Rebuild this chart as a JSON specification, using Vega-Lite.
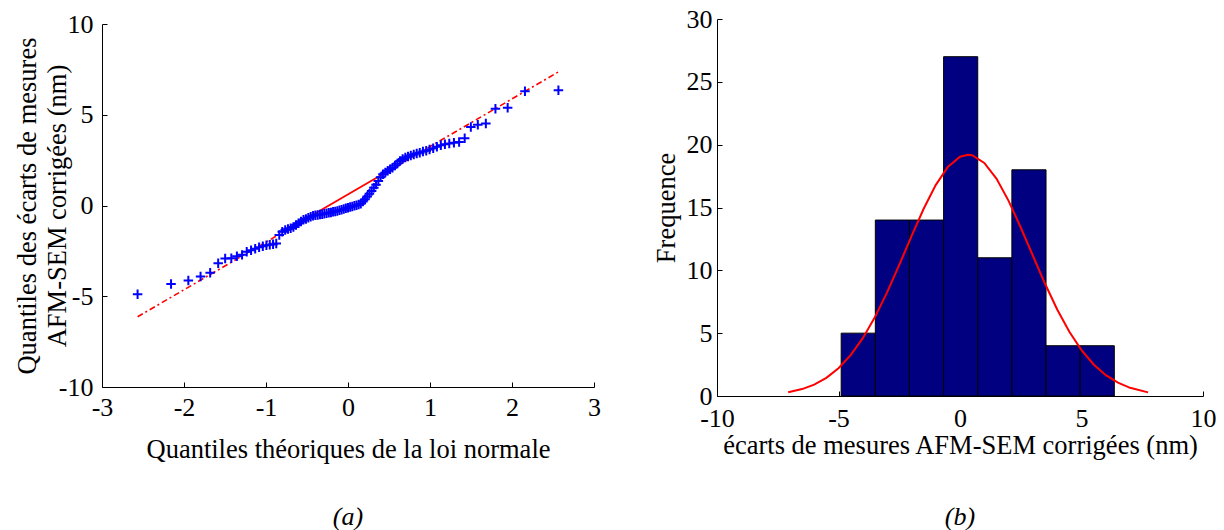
{
  "$schema": "https://vega.github.io/schema/vega-lite/v6.json",
  "background": "white",
  "padding": {"left": 14, "top": 6, "right": 5, "bottom": 5},
  "config": {
    "font": "Liberation Serif",
    "view": {"stroke": null},
    "axis": {
      "labelFont": "Liberation Serif",
      "titleFont": "Liberation Serif",
      "labelFontSize": 26,
      "titleFontSize": 26.5,
      "titleFontWeight": "normal",
      "labelColor": "black",
      "titleColor": "black",
      "domainColor": "black",
      "tickColor": "black",
      "grid": false,
      "tickSize": -5,
      "domainWidth": 1,
      "tickWidth": 1,
      "labelFlush": false,
      "labelExpr": "'' + datum.value"
    },
    "title": {"font": "Liberation Serif", "fontSize": 26, "fontWeight": "normal", "fontStyle": "italic", "color": "black"}
  },
  "datasets": {
    "qq": [
      {"x": -2.566, "y": -4.89}, {"x": -2.158, "y": -4.33}, {"x": -1.947, "y": -4.13}, {"x": -1.798, "y": -3.91},
      {"x": -1.681, "y": -3.70}, {"x": -1.583, "y": -3.18}, {"x": -1.498, "y": -2.92}, {"x": -1.423, "y": -2.90},
      {"x": -1.355, "y": -2.80}, {"x": -1.292, "y": -2.72}, {"x": -1.235, "y": -2.55}, {"x": -1.182, "y": -2.47},
      {"x": -1.132, "y": -2.38}, {"x": -1.084, "y": -2.30}, {"x": -1.039, "y": -2.24}, {"x": -0.995, "y": -2.19},
      {"x": -0.954, "y": -2.16}, {"x": -0.914, "y": -2.13}, {"x": -0.875, "y": -2.10}, {"x": -0.838, "y": -1.62},
      {"x": -0.802, "y": -1.45}, {"x": -0.766, "y": -1.35}, {"x": -0.732, "y": -1.30}, {"x": -0.699, "y": -1.25},
      {"x": -0.666, "y": -1.18}, {"x": -0.634, "y": -1.08}, {"x": -0.603, "y": -0.98}, {"x": -0.573, "y": -0.88},
      {"x": -0.543, "y": -0.79}, {"x": -0.513, "y": -0.74}, {"x": -0.484, "y": -0.68}, {"x": -0.455, "y": -0.62},
      {"x": -0.426, "y": -0.56}, {"x": -0.398, "y": -0.54}, {"x": -0.370, "y": -0.52}, {"x": -0.342, "y": -0.50},
      {"x": -0.315, "y": -0.48}, {"x": -0.288, "y": -0.45}, {"x": -0.261, "y": -0.43}, {"x": -0.234, "y": -0.40},
      {"x": -0.208, "y": -0.38}, {"x": -0.182, "y": -0.35}, {"x": -0.156, "y": -0.33}, {"x": -0.130, "y": -0.30},
      {"x": -0.104, "y": -0.26}, {"x": -0.078, "y": -0.23}, {"x": -0.052, "y": -0.19}, {"x": -0.026, "y": -0.15},
      {"x": 0.000, "y": -0.12}, {"x": 0.026, "y": -0.08}, {"x": 0.052, "y": -0.05}, {"x": 0.078, "y": -0.01},
      {"x": 0.104, "y": 0.02}, {"x": 0.130, "y": 0.06}, {"x": 0.156, "y": 0.10}, {"x": 0.182, "y": 0.22},
      {"x": 0.208, "y": 0.35}, {"x": 0.234, "y": 0.50}, {"x": 0.261, "y": 0.65}, {"x": 0.288, "y": 0.80},
      {"x": 0.315, "y": 0.98}, {"x": 0.342, "y": 1.15}, {"x": 0.370, "y": 1.35}, {"x": 0.398, "y": 1.55},
      {"x": 0.426, "y": 1.72}, {"x": 0.455, "y": 1.82}, {"x": 0.484, "y": 1.92}, {"x": 0.513, "y": 2.00},
      {"x": 0.543, "y": 2.08}, {"x": 0.573, "y": 2.20}, {"x": 0.603, "y": 2.32}, {"x": 0.634, "y": 2.45},
      {"x": 0.666, "y": 2.56}, {"x": 0.699, "y": 2.64}, {"x": 0.732, "y": 2.70}, {"x": 0.766, "y": 2.76},
      {"x": 0.802, "y": 2.81}, {"x": 0.838, "y": 2.86}, {"x": 0.875, "y": 2.91}, {"x": 0.914, "y": 2.97},
      {"x": 0.954, "y": 3.02}, {"x": 0.995, "y": 3.08}, {"x": 1.039, "y": 3.16}, {"x": 1.084, "y": 3.24},
      {"x": 1.132, "y": 3.32}, {"x": 1.182, "y": 3.38}, {"x": 1.235, "y": 3.42}, {"x": 1.292, "y": 3.46},
      {"x": 1.355, "y": 3.50}, {"x": 1.423, "y": 3.70}, {"x": 1.498, "y": 4.32}, {"x": 1.583, "y": 4.45},
      {"x": 1.681, "y": 4.52}, {"x": 1.798, "y": 5.33}, {"x": 1.947, "y": 5.38}, {"x": 2.158, "y": 6.30},
      {"x": 2.566, "y": 6.35}
    ],
    "refDash": [
      {"x": -2.566, "y": -6.13, "seg": "lo"}, {"x": -0.674, "y": -1.158, "seg": "lo"},
      {"x": 0.674, "y": 2.388, "seg": "hi"}, {"x": 2.566, "y": 7.36, "seg": "hi"}
    ],
    "refSolid": [
      {"x": -0.674, "y": -1.158}, {"x": 0.674, "y": 2.388}
    ],
    "hist": [
      {"x0": -4.89, "x1": -3.485, "count": 5},
      {"x0": -3.485, "x1": -2.08, "count": 14},
      {"x0": -2.08, "x1": -0.675, "count": 14},
      {"x0": -0.675, "x1": 0.73, "count": 27},
      {"x0": 0.73, "x1": 2.135, "count": 11},
      {"x0": 2.135, "x1": 3.54, "count": 18},
      {"x0": 3.54, "x1": 4.945, "count": 4},
      {"x0": 4.945, "x1": 6.35, "count": 4}
    ],
    "fit": [
      {"x": -7.07, "y": 0.30}, {"x": -6.5, "y": 0.55}, {"x": -6.0, "y": 0.91}, {"x": -5.5, "y": 1.44},
      {"x": -5.0, "y": 2.21}, {"x": -4.5, "y": 3.25}, {"x": -4.0, "y": 4.60}, {"x": -3.5, "y": 6.28},
      {"x": -3.0, "y": 8.25}, {"x": -2.5, "y": 10.43}, {"x": -2.0, "y": 12.70}, {"x": -1.5, "y": 14.88},
      {"x": -1.0, "y": 16.78}, {"x": -0.5, "y": 18.22}, {"x": 0.0, "y": 19.04}, {"x": 0.33, "y": 19.2},
      {"x": 0.5, "y": 19.16}, {"x": 1.0, "y": 18.55}, {"x": 1.5, "y": 17.30}, {"x": 2.0, "y": 15.53},
      {"x": 2.5, "y": 13.41}, {"x": 3.0, "y": 11.16}, {"x": 3.5, "y": 8.93}, {"x": 4.0, "y": 6.88},
      {"x": 4.5, "y": 5.11}, {"x": 5.0, "y": 3.65}, {"x": 5.5, "y": 2.51}, {"x": 6.0, "y": 1.66},
      {"x": 6.5, "y": 1.06}, {"x": 7.0, "y": 0.65}, {"x": 7.74, "y": 0.29}
    ]
  },
  "bounds": "flush",
  "spacing": 123,
  "hconcat": [
    {
      "width": 492,
      "height": 368,
      "title": {"text": "(a)", "orient": "bottom", "offset": 41},
      "layer": [
        {
          "data": {"name": "refDash"},
          "mark": {"type": "line", "color": "#ff0000", "strokeWidth": 1.6, "strokeDash": [6, 3, 2, 3]},
          "encoding": {
            "x": {"field": "x", "type": "quantitative", "scale": {"domain": [-3, 3], "nice": false, "zero": false},
                  "axis": {"values": [-3, -2, -1, 0, 1, 2, 3], "title": "Quantiles théoriques de la loi normale", "labelFont": "Liberation Serif", "labelPadding": 12, "titlePadding": 16}},
            "y": {"field": "y", "type": "quantitative", "scale": {"domain": [-10, 10], "range": [368, 5], "nice": false, "zero": false},
                  "axis": {"values": [-10, -5, 0, 5, 10], "title": ["Quantiles des écarts de mesures", "AFM-SEM corrigées (nm)"], "labelFont": "Liberation Serif", "titleLineHeight": 30, "labelPadding": 14, "titlePadding": -13}},
            "detail": {"field": "seg"}
          }
        },
        {
          "data": {"name": "refSolid"},
          "mark": {"type": "line", "color": "#ff0000", "strokeWidth": 1.8},
          "encoding": {
            "x": {"field": "x", "type": "quantitative"},
            "y": {"field": "y", "type": "quantitative"}
          }
        },
        {
          "data": {"name": "qq"},
          "mark": {"type": "point", "shape": "M-1,0L1,0M0,-1L0,1", "size": 90, "filled": false, "stroke": "#0000ff", "strokeWidth": 2, "opacity": 1},
          "encoding": {
            "x": {"field": "x", "type": "quantitative"},
            "y": {"field": "y", "type": "quantitative"}
          }
        }
      ]
    },
    {
      "width": 486,
      "height": 377,
      "title": {"text": "(b)", "orient": "bottom", "offset": 45},
      "layer": [
        {
          "data": {"name": "hist"},
          "mark": {"type": "rect", "fill": "#000080", "stroke": "black", "strokeWidth": 1},
          "encoding": {
            "x": {"field": "x0", "type": "quantitative", "scale": {"domain": [-10, 10], "nice": false, "zero": false},
                  "axis": {"values": [-10, -5, 0, 5, 10], "title": "écarts de mesures AFM-SEM corrigées (nm)", "labelFont": "Liberation Serif", "labelPadding": 14, "titlePadding": 1}},
            "x2": {"field": "x1"},
            "y": {"field": "count", "type": "quantitative", "scale": {"domain": [0, 30], "nice": false},
                  "axis": {"values": [0, 5, 10, 15, 20, 25, 30], "title": "Frequence", "labelFont": "Liberation Serif", "labelPadding": 10, "titlePadding": 6}},
            "y2": {"datum": 0}
          }
        },
        {
          "data": {"name": "fit"},
          "mark": {"type": "line", "color": "#ff0000", "strokeWidth": 2},
          "encoding": {
            "x": {"field": "x", "type": "quantitative"},
            "y": {"field": "y", "type": "quantitative"}
          }
        }
      ]
    }
  ]
}
